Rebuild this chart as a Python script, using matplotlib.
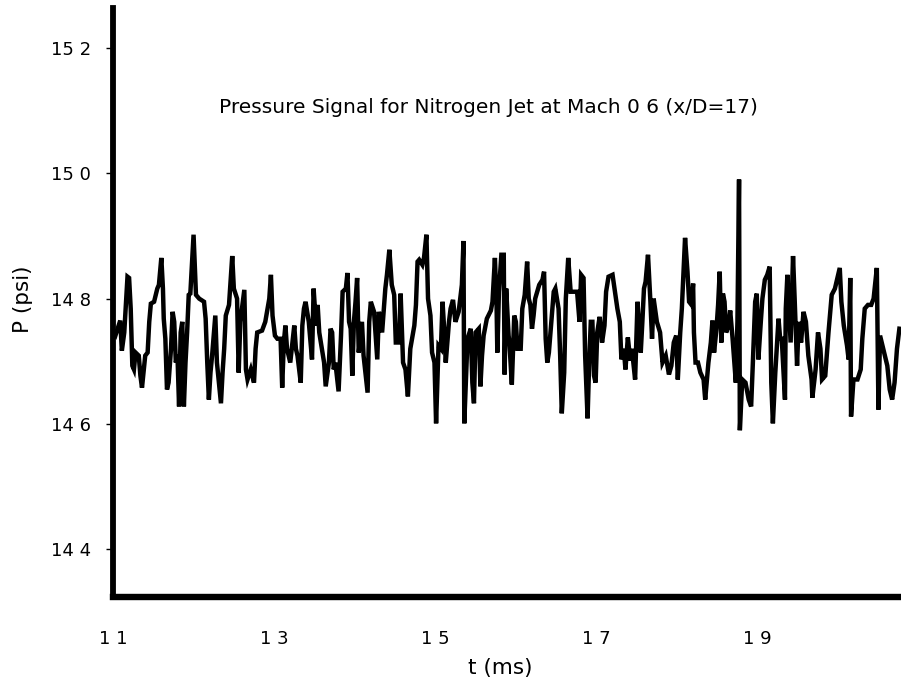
import matplotlib
matplotlib.use("Agg")
import matplotlib.pyplot as plt

plt.rcParams['font.family'] = ['DejaVu Sans']

# time (ms) and pressure (psi), peak to valley
t_ms = [
    1.100, 1.103, 1.109, 1.111, 1.114, 1.118, 1.120, 1.122, 1.124, 1.126, 1.128, 1.132,
    1.134, 1.136, 1.140, 1.143, 1.145, 1.147, 1.151, 1.155, 1.157, 1.160, 1.162, 1.163,
    1.165, 1.167, 1.169, 1.172, 1.174, 1.176, 1.178, 1.180, 1.182, 1.184, 1.186, 1.188,
    1.190, 1.192, 1.194, 1.196, 1.200, 1.203, 1.207, 1.213, 1.215, 1.217, 1.219, 1.221,
    1.223, 1.227, 1.229, 1.234, 1.236, 1.238, 1.240, 1.244, 1.248, 1.250, 1.254, 1.256,
    1.258, 1.263, 1.265, 1.267, 1.271, 1.275, 1.277, 1.279, 1.285, 1.289, 1.294, 1.296,
    1.298, 1.301, 1.304, 1.308, 1.310, 1.312, 1.314, 1.316, 1.320, 1.325, 1.327, 1.329,
    1.333,
    1.335, 1.337, 1.339, 1.343, 1.347, 1.349, 1.352, 1.354, 1.356, 1.358, 1.360, 1.362,
    1.364, 1.368, 1.370, 1.372, 1.374, 1.376, 1.380, 1.383, 1.385, 1.389, 1.391, 1.393,
    1.395, 1.397, 1.399, 1.401, 1.403, 1.405, 1.409, 1.411, 1.416, 1.418, 1.420, 1.424,
    1.428, 1.430, 1.434, 1.438, 1.440, 1.443, 1.446, 1.449, 1.451, 1.455, 1.457, 1.460,
    1.463, 1.466, 1.469, 1.474, 1.476, 1.478, 1.480, 1.484, 1.486, 1.489, 1.491, 1.494,
    1.496, 1.499, 1.501, 1.504, 1.507, 1.509, 1.511, 1.513, 1.517, 1.519, 1.522, 1.525,
    1.529, 1.533, 1.535, 1.536, 1.540, 1.544, 1.546, 1.548, 1.550, 1.554, 1.556, 1.558,
    1.560, 1.564, 1.569, 1.571,
    1.574, 1.576, 1.577, 1.579, 1.582, 1.585, 1.586, 1.588, 1.591, 1.592, 1.595, 1.598,
    1.600, 1.602, 1.606, 1.608, 1.611, 1.614, 1.616, 1.618, 1.620, 1.622, 1.624, 1.629,
    1.633, 1.635, 1.637, 1.639, 1.641, 1.643, 1.647, 1.649, 1.653, 1.655, 1.657, 1.660,
    1.662, 1.665, 1.668, 1.672, 1.676, 1.679, 1.681, 1.684, 1.686, 1.689, 1.691, 1.693,
    1.695, 1.697, 1.699, 1.701, 1.704, 1.707, 1.710, 1.712, 1.715, 1.720, 1.723, 1.726,
    1.729, 1.731, 1.734, 1.736, 1.739, 1.742, 1.744, 1.748, 1.751, 1.753, 1.755, 1.757,
    1.759, 1.761, 1.764, 1.767, 1.769, 1.771, 1.775, 1.779, 1.782, 1.786, 1.790, 1.793,
    1.796, 1.799, 1.801, 1.804, 1.806, 1.810,
    1.813, 1.815, 1.818, 1.820, 1.821, 1.823, 1.826, 1.829, 1.833, 1.835, 1.839, 1.842,
    1.844, 1.846, 1.849, 1.851, 1.853, 1.855, 1.857, 1.859, 1.861, 1.864, 1.866, 1.869,
    1.873, 1.875, 1.877, 1.878, 1.881, 1.885, 1.889, 1.892, 1.894, 1.897, 1.899, 1.901,
    1.904, 1.906, 1.909, 1.912, 1.915, 1.917, 1.919, 1.922, 1.926, 1.928, 1.930, 1.934,
    1.935, 1.937, 1.941, 1.944, 1.946, 1.949, 1.951, 1.954, 1.957, 1.960, 1.963, 1.967,
    1.968, 1.972, 1.975, 1.978, 1.980, 1.984, 1.988, 1.992, 1.996, 2.000, 2.002, 2.004,
    2.007, 2.011, 2.013, 2.015, 2.016, 2.019, 2.024, 2.028, 2.030, 2.033, 2.037, 2.041,
    2.044, 2.048, 2.050, 2.052, 2.057, 2.061, 2.064, 2.067, 2.070, 2.073, 2.076,
]
p_psi = [
    14.745, 14.741, 14.765, 14.717, 14.746, 14.835, 14.833, 14.784, 14.693, 14.687, 14.714, 14.709,
    14.677, 14.658, 14.709, 14.714, 14.763, 14.792, 14.795, 14.816, 14.822, 14.865, 14.816, 14.768,
    14.736, 14.655, 14.666, 14.720, 14.779, 14.763, 14.698, 14.711, 14.628, 14.746, 14.763, 14.628,
    14.698, 14.746, 14.806, 14.808, 14.902, 14.806, 14.800, 14.795, 14.768, 14.698, 14.639, 14.682,
    14.709, 14.773, 14.698, 14.633, 14.682, 14.720, 14.773, 14.790, 14.868, 14.816, 14.800, 14.682,
    14.763, 14.814, 14.687, 14.671, 14.687, 14.666, 14.720, 14.746, 14.749, 14.763, 14.800, 14.838,
    14.773, 14.741, 14.736, 14.736, 14.658, 14.730, 14.757, 14.720, 14.698, 14.757, 14.720, 14.709,
    14.666,
    14.757, 14.784, 14.795, 14.763, 14.703, 14.816, 14.757, 14.790, 14.746, 14.730, 14.714, 14.698,
    14.660, 14.698, 14.752, 14.746, 14.687, 14.698, 14.652, 14.741, 14.811, 14.816, 14.841, 14.763,
    14.752, 14.677, 14.763, 14.795, 14.833, 14.714, 14.763, 14.709, 14.650, 14.763, 14.795, 14.779,
    14.703, 14.779, 14.746, 14.816, 14.838, 14.878, 14.822, 14.806, 14.730, 14.730, 14.808, 14.698,
    14.687, 14.644, 14.720, 14.757, 14.790, 14.859, 14.862, 14.854, 14.865, 14.902, 14.800, 14.773,
    14.714, 14.698, 14.601, 14.725, 14.720, 14.795, 14.752, 14.698, 14.763, 14.784, 14.798, 14.763,
    14.779, 14.822, 14.892, 14.601, 14.736, 14.752, 14.666, 14.633, 14.746, 14.752, 14.660, 14.709,
    14.741, 14.768, 14.781, 14.795,
    14.865, 14.795, 14.714, 14.811, 14.870, 14.870, 14.679, 14.816, 14.741, 14.730, 14.663, 14.773,
    14.763, 14.720, 14.720, 14.784, 14.806, 14.859, 14.800, 14.790, 14.752, 14.773, 14.800, 14.822,
    14.830, 14.843, 14.736, 14.698, 14.714, 14.746, 14.811, 14.816, 14.784, 14.709, 14.617, 14.682,
    14.800, 14.865, 14.811, 14.811, 14.811, 14.763, 14.838, 14.833, 14.709, 14.609, 14.698, 14.763,
    14.763, 14.677, 14.666, 14.746, 14.771, 14.730, 14.757, 14.811, 14.835, 14.838, 14.811, 14.784,
    14.763, 14.703, 14.720, 14.687, 14.738, 14.701, 14.720, 14.671, 14.795, 14.752, 14.714, 14.763,
    14.816, 14.827, 14.870, 14.795, 14.736, 14.800, 14.763, 14.746, 14.698, 14.709, 14.679, 14.693,
    14.730, 14.741, 14.671, 14.746, 14.784, 14.897,
    14.843, 14.795, 14.790, 14.824, 14.746, 14.698, 14.698, 14.682, 14.671, 14.639, 14.698, 14.730,
    14.765, 14.714, 14.752, 14.790, 14.843, 14.730, 14.808, 14.795, 14.746, 14.757, 14.781, 14.736,
    14.666, 14.763, 14.990, 14.590, 14.671, 14.666, 14.639, 14.628, 14.693, 14.795, 14.808, 14.703,
    14.763, 14.800, 14.830, 14.838, 14.851, 14.666, 14.601, 14.682, 14.768, 14.736, 14.736, 14.639,
    14.784, 14.838, 14.730, 14.868, 14.800, 14.693, 14.763, 14.730, 14.779, 14.763, 14.709, 14.671,
    14.642, 14.687, 14.746, 14.720, 14.671, 14.677, 14.746, 14.806, 14.816, 14.838, 14.849, 14.795,
    14.757, 14.725, 14.703, 14.833, 14.612, 14.671, 14.671, 14.687, 14.736, 14.784, 14.790, 14.790,
    14.800, 14.849, 14.623, 14.741, 14.714, 14.693, 14.655, 14.639, 14.666, 14.720, 14.752,
]

y_ticks = [14.4, 14.6, 14.8, 15.0, 15.2]
y_labels = ['14 4', '14 6', '14 8', '15 0', '15 2']
x_ticks = [1.1, 1.3, 1.5, 1.7, 1.9]
x_labels = ['1 1', '1 3', '1 5', '1 7', '1 9']

fig = plt.figure(figsize=(9.01, 6.90), dpi=100)
ax = fig.add_axes([0.1254, 0.1348, 0.8746, 0.853])

ax.plot(t_ms, p_psi, color='black', lw=3.2, solid_joinstyle='miter')

ax.set_xlim(1.1, 2.078)
ax.set_ylim(14.324, 15.263)

ax.set_yticks(y_ticks)
ax.set_yticklabels(y_labels, fontsize=13)
ax.set_xticks(x_ticks)
ax.set_xticklabels(x_labels, fontsize=13)

ax.tick_params(axis='y', direction='out', length=5, width=1, pad=11)
ax.tick_params(axis='x', length=0, pad=24)

for s in ['top', 'right']:
    ax.spines[s].set_visible(False)
ax.spines['left'].set_linewidth(4.2)
ax.spines['bottom'].set_linewidth(4.6)

ax.set_ylabel('P (psi)', fontsize=15.5)
ax.yaxis.set_label_coords(-0.102, 0.506)
ax.set_xlabel('t (ms)', fontsize=15.5)
ax.xaxis.set_label_coords(0.491, -0.103)

ax.text(0.477, 0.832, 'Pressure Signal for Nitrogen Jet at Mach 0 6 (x/D=17)',
        transform=ax.transAxes, ha='center', va='center', fontsize=14.5)

fig.savefig('out.png', dpi=100)
